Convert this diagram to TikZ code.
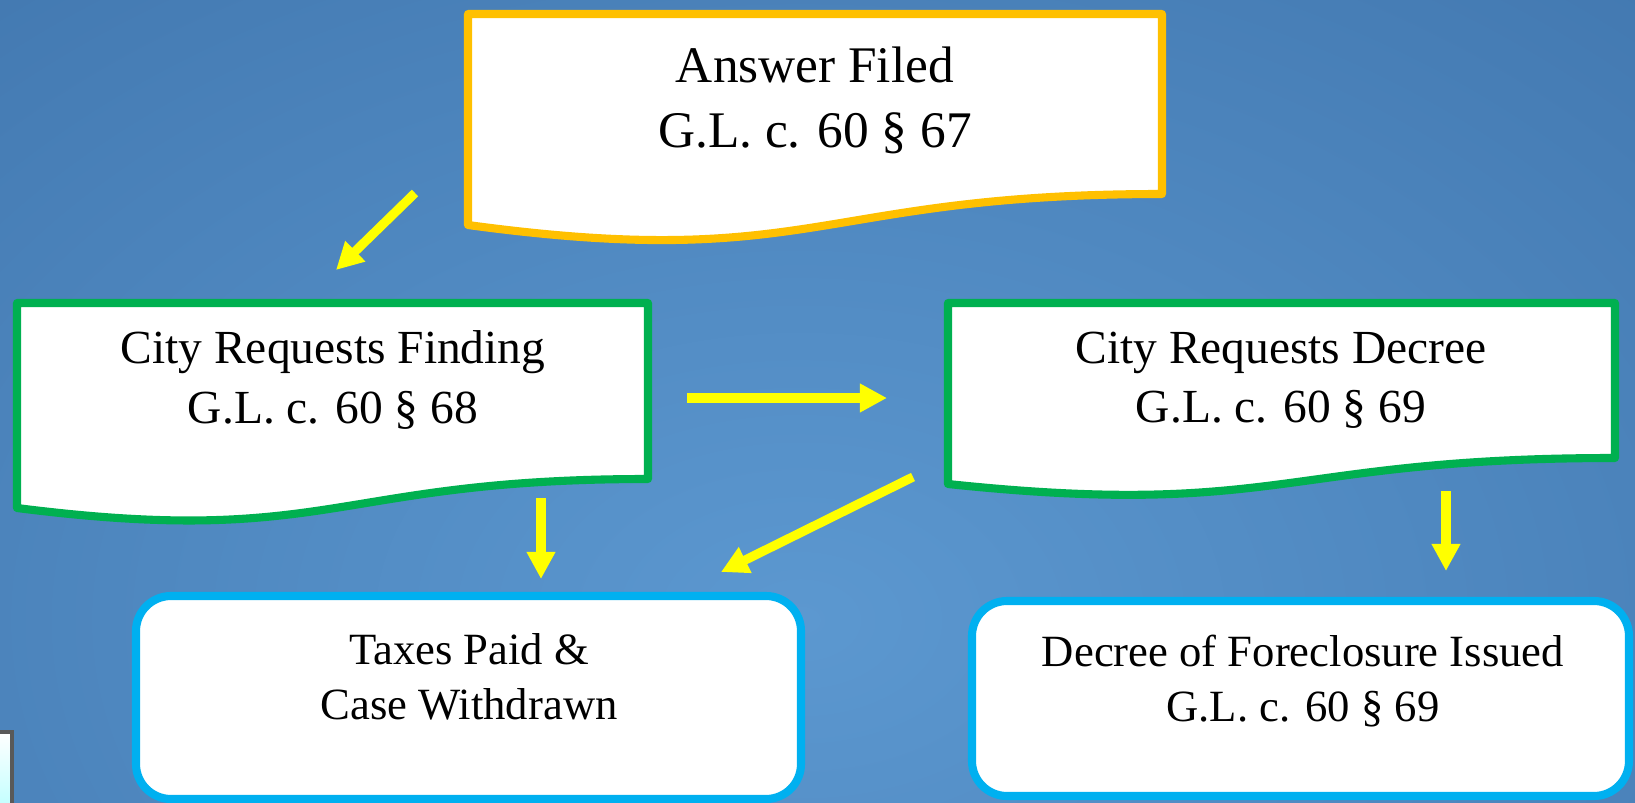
\documentclass[tikz,border=0pt]{standalone}
\usepackage{fontspec}
\setmainfont{Liberation Serif}
\usetikzlibrary{arrows.meta}
\definecolor{bgdark}{RGB}{58,110,166}
\definecolor{bglight}{RGB}{92,152,208}
\definecolor{filedgold}{RGB}{255,192,0}
\definecolor{requestgreen}{RGB}{0,176,80}
\definecolor{endcyan}{RGB}{0,176,240}
\definecolor{flowyellow}{RGB}{255,255,0}

\begin{document}
\begin{tikzpicture}[x=0.01cm, y=-0.01cm,
  every node/.style = {align=center, text=black},
  docbox/.style = {draw, line width=2.3pt, fill=white, line join=round},
  endbox/.style = {draw=endcyan, line width=2.3pt, fill=white, rounded corners=0.35cm},
  flow/.style = {draw=flowyellow, line width=2.6pt, -{Triangle[length=0.27cm, width=0.27cm]}}]
  \useasboundingbox (0,0) rectangle (1635,803);
  \fill[bgdark] (0,0) rectangle (1635,803);
  \begin{scope}
    \clip (0,0) rectangle (1635,803);
    \shade[inner color=bglight, outer color=bgdark] (800,620) ellipse [x radius=1700, y radius=1150];
    \shade[top color=white, bottom color=cyan!25] (-5,732) rectangle (12,810);
    \draw[black!65, line width=1.2pt] (-5,732) -- (12,732) -- (12,810);
  \end{scope}

  \draw[docbox, draw=filedgold] (468,14) -- (1162,14) -- (1162,194)
    .. controls (815,194) and (815,272) .. (468,225) -- cycle;
  \draw[docbox, draw=requestgreen] (17,303) -- (648,303) -- (648,479)
    .. controls (332,479) and (332,548) .. (17,508) -- cycle;
  \draw[docbox, draw=requestgreen] (948,303) -- (1615,303) -- (1615,458)
    .. controls (1281,458) and (1281,519) .. (948,484) -- cycle;
  \draw[endbox] (136,596) rectangle (801,799);
  \draw[endbox] (972,601) rectangle (1629,796);

  \node[font=\fontsize{14.6}{18.5}\selectfont] (answer) at (815,100) {Answer Filed\\G.L. c. 60 \S{} 67};
  \node[font=\fontsize{13.5}{16.8}\selectfont] (finding) at (333,380) {City Requests Finding\\G.L. c. 60 \S{} 68};
  \node[font=\fontsize{13.5}{16.8}\selectfont] (decree) at (1281,380) {City Requests Decree\\G.L. c. 60 \S{} 69};
  \node[font=\fontsize{12.7}{15.6}\selectfont] (withdrawn) at (469,677) {Taxes Paid \&\\Case Withdrawn};
  \node[font=\fontsize{12.7}{15.6}\selectfont] (foreclosure) at (1303,681) {Decree of Foreclosure Issued\\G.L. c. 60 \S{} 69};

  \coordinate (f1) at (415,193);  \coordinate (t1) at (336,270);
  \coordinate (f2) at (687,398);  \coordinate (t2) at (887,398);
  \coordinate (f3) at (541,498);  \coordinate (t3) at (541,579);
  \coordinate (f4) at (913,477);  \coordinate (t4) at (721,572);
  \coordinate (f5) at (1446,491); \coordinate (t5) at (1446,571);
  \foreach \i in {1,...,5}
    \draw[flow] (f\i) -- (t\i);
\end{tikzpicture}
\end{document}
